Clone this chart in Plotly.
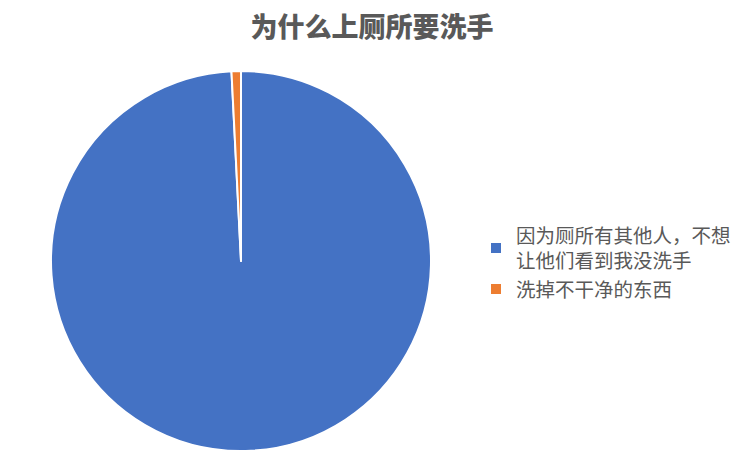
import plotly.graph_objects as go

# reasons, share of answers
labels = ["因为厕所有其他人，不想<br>让他们看到我没洗手", "洗掉不干净的东西"]
values = [99.2, 0.8]
colors = ["#4472C4", "#ED7D31"]

# the page body has an 8px margin, so the figure is drawn 8px smaller
W, H = 735, 459

fig = go.Figure()
fig.add_trace(go.Pie(
    labels=labels,
    values=values,
    sort=False,
    direction="clockwise",
    rotation=0,
    textinfo="none",
    hoverinfo="label+percent",
    marker=dict(colors=colors, line=dict(color="white", width=2)),
    domain=dict(x=[43 / W, 423 / W], y=[16 / H, 396 / H]),
))

fig.update_layout(
    width=W,
    height=H,
    margin=dict(l=0, r=0, t=0, b=0),
    paper_bgcolor="white",
    font=dict(family="Noto Sans CJK SC", color="#595959"),
    title=dict(
        text="为什么上厕所要洗手",
        x=364 / W, xanchor="center",
        y=1 - 20 / H, yanchor="middle",
        font=dict(size=27, color="#595959", weight=900),
    ),
    legend=dict(
        x=468 / W, xanchor="left",
        y=0.445, yanchor="middle",
        font=dict(size=19.5, color="#595959"),
        itemwidth=30,
    ),
)

fig.write_html("out.html")
